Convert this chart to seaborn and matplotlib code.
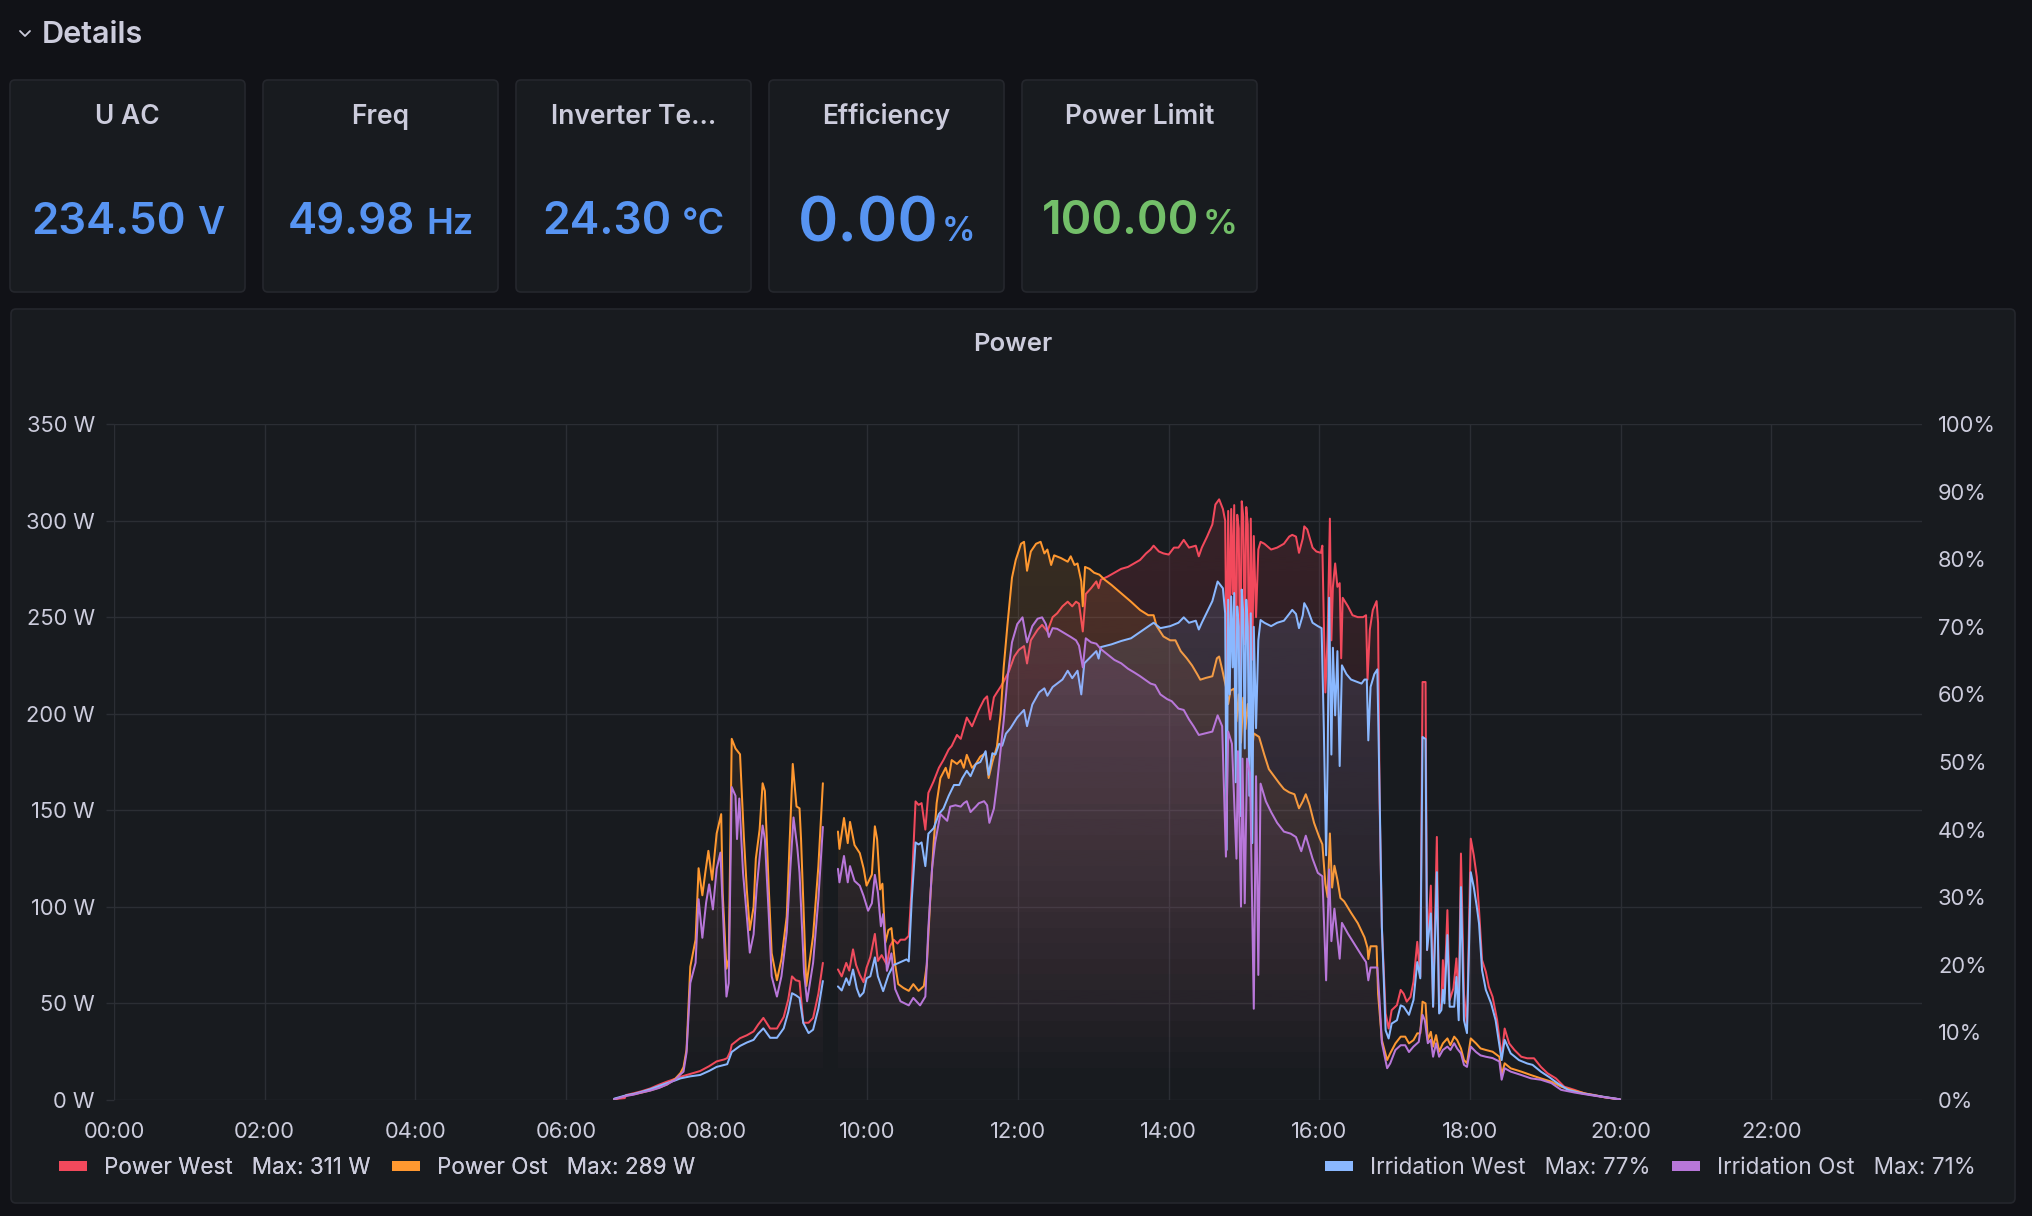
"""
Grafana-style inverter dashboard: stat tiles + power / irradiation time series.
"""

import numpy as np
import pandas as pd
import matplotlib
matplotlib.use("Agg")
import matplotlib.pyplot as plt
import matplotlib.colors as mcolors
import seaborn as sns
from matplotlib.patches import FancyBboxPatch, Patch
from matplotlib.lines import Line2D
from matplotlib.path import Path

W, H = 2032, 1216

BG = "#111217"
PANEL = "#181b1f"
BORDER = "#25272d"
TEXT = "#ccccdc"
GRID = "#2b2e34"
FILL_ALPHA = 0.17

RED = "#F2495C"
ORANGE = "#FF9830"
BLUE = "#8AB8FF"
PURPLE = "#B877D9"

# stat tiles
stat_titles = ["U AC", "Freq", "Inverter Te\u2026", "Efficiency", "Power Limit"]
stat_values = ["234.50", "49.98", "24.30", "0.00", "100.00"]
stat_units = ["V", "Hz", "\u00b0C", "%", "%"]
stat_colors = ["#5794F2", "#5794F2", "#5794F2", "#5794F2", "#73BF69"]

# time series: (hour of day, value)
power_west_pts = [
    (6.64, 0.5), (6.78, 1.0), (6.80, 2.6), (6.90, 3.5), (7.00, 4.5), (7.12, 6.0), (7.24, 8.0),
    (7.34, 9.5), (7.45, 11.0), (7.52, 12.0), (7.65, 13.5), (7.78, 15.0), (7.90, 17.5), (8.00, 20.0),
    (8.10, 21.0), (8.14, 21.7), (8.18, 25.0), (8.20, 28.6), (8.31, 32.0), (8.40, 33.5), (8.49, 35.5),
    (8.55, 39.0), (8.62, 42.5), (8.71, 37.0), (8.80, 37.0), (8.89, 43.0), (8.95, 52.0), (9.00, 64.0),
    (9.05, 62.0), (9.10, 61.5), (9.15, 40.0), (9.22, 40.0), (9.28, 42.5), (9.35, 55.0), (9.41, 71.0),
    (9.50, np.nan),
    (9.61, 67.6), (9.66, 64.0), (9.72, 71.0), (9.76, 67.0), (9.81, 78.0), (9.85, 70.0), (9.90, 64.8),
    (9.95, 61.0), (9.99, 68.5), (10.04, 74.0), (10.10, 86.0), (10.14, 72.0), (10.19, 75.0),
    (10.26, 70.0), (10.30, 79.6), (10.35, 83.0), (10.40, 81.0), (10.44, 83.0), (10.50, 83.0),
    (10.55, 85.0), (10.59, 111.0), (10.64, 154.6), (10.68, 152.8), (10.72, 153.7), (10.77, 140.0),
    (10.81, 159.0), (10.88, 165.0), (10.95, 172.0), (11.01, 176.0), (11.08, 181.5), (11.12, 183.3),
    (11.19, 189.0), (11.24, 187.0), (11.32, 198.0), (11.39, 193.5), (11.48, 202.0), (11.55, 207.4),
    (11.59, 209.0), (11.63, 197.0), (11.68, 208.5), (11.72, 211.0), (11.77, 214.0), (11.81, 216.7),
    (11.88, 222.0), (11.95, 229.6), (12.01, 233.0), (12.08, 235.0), (12.12, 226.0), (12.17, 238.0),
    (12.26, 243.5), (12.32, 246.0), (12.39, 242.6), (12.46, 250.0), (12.52, 252.0), (12.59, 255.6),
    (12.66, 258.0), (12.72, 255.6), (12.77, 258.0), (12.81, 257.0), (12.86, 242.6), (12.90, 262.0),
    (12.97, 265.0), (13.04, 268.5), (13.07, 265.0), (13.10, 269.4), (13.19, 271.0), (13.28, 273.0),
    (13.37, 275.0), (13.46, 276.0), (13.55, 278.0), (13.62, 279.6), (13.70, 283.0), (13.76, 285.0),
    (13.80, 287.0), (13.87, 284.0), (13.93, 283.0), (14.00, 282.4), (14.07, 286.0), (14.13, 286.0),
    (14.20, 290.0), (14.27, 286.0), (14.36, 287.0), (14.40, 281.5), (14.44, 286.0), (14.51, 291.7),
    (14.58, 298.0), (14.62, 308.3), (14.67, 311.0), (14.72, 306.0), (14.75, 300.0), (14.77, 215.0),
    (14.79, 305.0), (14.81, 240.0), (14.83, 306.0), (14.85, 262.0), (14.87, 308.0), (14.89, 200.0),
    (14.91, 303.0), (14.93, 296.0), (14.95, 218.0), (14.97, 310.0), (14.99, 302.0), (15.01, 236.0),
    (15.03, 307.0), (15.05, 298.0), (15.07, 212.0), (15.09, 301.0), (15.11, 228.0), (15.13, 292.0),
    (15.16, 250.0), (15.19, 285.0), (15.22, 289.0), (15.27, 288.0), (15.36, 285.0), (15.44, 286.0),
    (15.53, 288.0), (15.60, 291.7), (15.64, 292.6), (15.69, 291.7), (15.73, 283.3), (15.78, 290.7),
    (15.80, 297.0), (15.84, 295.4), (15.91, 286.0), (15.96, 284.0), (16.02, 283.3), (16.04, 287.0),
    (16.06, 247.0), (16.08, 211.0), (16.11, 240.0), (16.14, 301.0), (16.16, 238.0), (16.18, 265.7),
    (16.21, 277.8), (16.24, 265.7), (16.27, 267.6), (16.29, 228.7), (16.31, 260.0), (16.38, 255.6),
    (16.44, 251.0), (16.51, 250.0), (16.58, 250.0), (16.62, 251.0), (16.64, 217.6), (16.67, 243.5),
    (16.71, 253.7), (16.76, 258.3), (16.78, 247.0), (16.80, 154.6), (16.83, 89.6), (16.88, 44.8),
    (16.92, 37.0), (16.96, 46.5), (17.03, 49.1), (17.08, 57.0), (17.12, 55.0), (17.16, 50.9),
    (17.21, 53.4), (17.25, 61.2), (17.30, 81.9), (17.34, 63.8), (17.37, 216.4), (17.41, 216.4),
    (17.43, 77.6), (17.48, 111.0), (17.51, 48.3), (17.56, 136.2), (17.59, 45.7), (17.62, 50.0),
    (17.64, 72.4), (17.66, 55.0), (17.70, 98.3), (17.73, 51.7), (17.78, 57.8), (17.82, 73.3),
    (17.85, 48.3), (17.88, 127.6), (17.92, 55.0), (17.96, 38.0), (18.01, 135.3), (18.05, 126.7),
    (18.09, 115.5), (18.12, 98.3), (18.16, 72.4), (18.21, 66.4), (18.25, 58.6), (18.30, 53.4),
    (18.36, 41.4), (18.42, 22.4), (18.46, 37.0), (18.52, 29.3), (18.59, 25.9), (18.68, 22.4),
    (18.76, 21.6), (18.85, 21.6), (18.94, 17.2), (19.03, 13.8), (19.14, 11.2), (19.25, 6.9),
    (19.39, 5.2), (19.52, 3.4), (19.65, 2.6), (19.79, 1.4), (19.99, 0.3),
]

power_ost_pts = [
    (6.64, 0.3), (6.80, 2.3), (6.90, 3.0), (7.00, 3.8), (7.12, 5.0), (7.24, 6.5), (7.34, 8.0),
    (7.45, 11.0), (7.52, 14.0), (7.56, 17.0), (7.60, 26.0), (7.65, 69.0), (7.72, 83.0), (7.76, 120.0),
    (7.81, 106.0), (7.85, 118.0), (7.89, 129.0), (7.94, 114.0), (8.00, 138.0), (8.06, 148.0),
    (8.08, 107.0), (8.13, 68.0), (8.16, 73.0), (8.20, 187.0), (8.25, 182.0), (8.31, 179.0),
    (8.36, 137.0), (8.40, 109.0), (8.44, 88.0), (8.49, 100.0), (8.52, 125.0), (8.57, 140.0),
    (8.61, 164.0), (8.64, 160.0), (8.69, 111.0), (8.73, 76.0), (8.80, 62.0), (8.86, 73.0),
    (8.93, 95.0), (8.97, 135.0), (9.01, 174.0), (9.06, 152.0), (9.10, 151.0), (9.12, 135.0),
    (9.19, 59.0), (9.28, 85.0), (9.35, 121.0), (9.41, 164.0),
    (9.50, np.nan),
    (9.61, 139.0), (9.63, 130.0), (9.69, 146.0), (9.74, 133.0), (9.77, 144.0), (9.83, 132.0),
    (9.90, 127.8), (9.95, 120.0), (9.99, 111.0), (10.06, 116.7), (10.10, 141.7), (10.13, 135.0),
    (10.17, 109.0), (10.20, 112.0), (10.24, 81.5), (10.28, 88.0), (10.32, 89.0), (10.37, 70.0),
    (10.41, 60.0), (10.48, 58.0), (10.55, 56.5), (10.61, 60.0), (10.68, 56.5), (10.75, 59.0),
    (10.79, 70.0), (10.84, 107.4), (10.88, 133.0), (10.92, 153.7), (10.97, 166.7), (11.04, 172.0),
    (11.08, 166.7), (11.12, 176.0), (11.19, 174.0), (11.24, 176.0), (11.28, 172.0), (11.32, 178.7),
    (11.39, 172.0), (11.44, 174.0), (11.50, 177.8), (11.57, 179.6), (11.61, 166.7), (11.66, 175.0),
    (11.72, 183.0), (11.77, 200.0), (11.81, 224.0), (11.86, 246.0), (11.92, 270.4), (11.97, 279.6),
    (12.04, 288.0), (12.08, 289.0), (12.12, 274.0), (12.17, 284.0), (12.24, 288.0), (12.30, 289.0),
    (12.35, 283.0), (12.39, 285.0), (12.44, 277.0), (12.48, 282.0), (12.57, 280.6), (12.66, 278.7),
    (12.70, 281.5), (12.75, 277.0), (12.79, 277.8), (12.84, 268.5), (12.86, 255.6), (12.89, 276.0),
    (12.95, 275.0), (13.01, 273.0), (13.08, 272.0), (13.15, 269.4), (13.24, 266.7), (13.32, 264.0),
    (13.41, 261.0), (13.50, 258.0), (13.62, 253.7), (13.73, 251.0), (13.80, 251.0), (13.84, 245.4),
    (13.93, 240.0), (14.02, 238.0), (14.09, 238.0), (14.16, 232.4), (14.24, 228.7), (14.31, 225.0),
    (14.38, 220.4), (14.42, 217.6), (14.49, 218.5), (14.58, 219.4), (14.64, 228.7), (14.67, 229.6),
    (14.71, 223.0), (14.76, 214.0), (14.79, 205.0), (14.82, 212.0), (14.87, 213.0), (14.90, 196.0),
    (14.93, 210.0), (14.96, 185.0), (14.99, 208.3), (15.02, 192.0), (15.05, 205.0), (15.07, 195.4),
    (15.10, 178.0), (15.13, 189.8), (15.20, 188.0), (15.27, 178.7), (15.33, 171.3), (15.40, 167.6),
    (15.47, 163.9), (15.53, 161.0), (15.60, 159.3), (15.67, 158.3), (15.73, 151.0), (15.78, 154.6),
    (15.82, 158.3), (15.87, 152.8), (15.93, 143.5), (16.00, 136.0), (16.04, 132.4), (16.08, 112.0),
    (16.11, 105.0), (16.14, 138.0), (16.17, 110.0), (16.20, 121.3), (16.24, 114.0), (16.28, 104.6),
    (16.33, 102.8), (16.42, 97.0), (16.51, 91.6), (16.60, 84.2), (16.64, 78.7), (16.65, 73.0),
    (16.68, 79.6), (16.76, 79.6), (16.78, 55.0), (16.83, 31.0), (16.90, 20.7), (16.94, 24.1),
    (17.01, 29.3), (17.08, 32.8), (17.14, 32.8), (17.19, 29.3), (17.25, 31.0), (17.30, 34.5),
    (17.34, 34.5), (17.37, 50.9), (17.41, 50.0), (17.44, 31.0), (17.48, 35.3), (17.51, 27.6),
    (17.55, 33.6), (17.59, 25.0), (17.64, 29.3), (17.70, 31.9), (17.74, 28.4), (17.79, 32.8),
    (17.83, 31.0), (17.88, 26.7), (17.92, 20.7), (17.96, 19.0), (18.01, 31.9), (18.08, 29.3),
    (18.14, 26.7), (18.21, 25.9), (18.30, 25.0), (18.39, 22.4), (18.42, 12.9), (18.46, 19.0),
    (18.54, 16.4), (18.68, 14.7), (18.81, 12.9), (18.94, 11.2), (19.08, 9.5), (19.21, 6.9),
    (19.34, 5.2), (19.56, 3.1), (19.79, 1.4), (19.99, 0.3),
]

irr_west_pts = [
    (6.64, 0.2), (6.80, 0.7), (6.90, 0.9), (7.00, 1.2), (7.12, 1.6), (7.24, 2.1), (7.34, 2.5),
    (7.45, 2.9), (7.52, 3.2), (7.65, 3.5), (7.78, 3.7), (7.90, 4.3), (8.00, 4.9), (8.14, 5.3),
    (8.20, 7.1), (8.31, 8.0), (8.40, 8.5), (8.49, 8.9), (8.55, 9.8), (8.62, 10.6), (8.71, 9.2),
    (8.80, 9.2), (8.89, 10.6), (8.95, 13.0), (9.00, 15.8), (9.05, 15.5), (9.10, 15.1), (9.15, 11.4),
    (9.22, 9.9), (9.28, 10.4), (9.35, 13.5), (9.41, 17.6),
    (9.50, np.nan),
    (9.61, 16.8), (9.66, 16.2), (9.72, 18.0), (9.76, 17.0), (9.81, 19.3), (9.86, 16.5), (9.90, 15.3),
    (9.95, 15.9), (9.99, 18.0), (10.04, 18.3), (10.10, 21.1), (10.14, 18.3), (10.21, 16.1),
    (10.28, 18.5), (10.35, 20.0), (10.40, 20.2), (10.46, 20.5), (10.52, 20.8), (10.55, 20.5),
    (10.59, 29.7), (10.64, 38.1), (10.68, 37.8), (10.72, 38.1), (10.77, 34.6), (10.81, 39.4),
    (10.88, 40.2), (10.95, 42.3), (11.01, 43.1), (11.08, 45.0), (11.15, 46.6), (11.22, 46.6),
    (11.26, 47.6), (11.32, 48.7), (11.37, 47.9), (11.44, 49.7), (11.50, 50.0), (11.57, 51.6),
    (11.61, 48.1), (11.66, 51.3), (11.70, 51.1), (11.75, 52.7), (11.79, 52.4), (11.84, 54.2),
    (11.90, 55.0), (11.99, 56.6), (12.08, 57.7), (12.12, 55.3), (12.19, 58.5), (12.28, 60.3),
    (12.35, 60.9), (12.39, 59.8), (12.46, 61.1), (12.52, 61.6), (12.59, 62.2), (12.66, 63.5),
    (12.72, 62.4), (12.79, 63.5), (12.84, 60.0), (12.88, 64.6), (12.97, 65.6), (13.04, 66.4),
    (13.07, 65.3), (13.10, 67.0), (13.24, 67.4), (13.37, 67.9), (13.50, 68.3), (13.67, 69.6),
    (13.80, 70.6), (13.89, 69.8), (14.02, 70.1), (14.13, 70.6), (14.20, 71.4), (14.27, 70.6),
    (14.36, 70.9), (14.40, 69.6), (14.44, 70.6), (14.51, 72.2), (14.58, 73.8), (14.65, 76.7),
    (14.72, 75.7), (14.75, 72.0), (14.77, 37.0), (14.79, 74.0), (14.81, 60.0), (14.83, 74.5),
    (14.85, 64.0), (14.87, 75.0), (14.89, 47.0), (14.91, 73.0), (14.93, 70.0), (14.95, 42.0),
    (14.97, 75.5), (14.99, 72.0), (15.01, 52.0), (15.03, 74.0), (15.05, 70.0), (15.07, 45.0),
    (15.09, 72.0), (15.11, 38.0), (15.13, 70.0), (15.16, 55.0), (15.19, 68.0), (15.22, 71.0),
    (15.27, 70.6), (15.36, 70.1), (15.44, 70.6), (15.53, 70.9), (15.60, 71.9), (15.64, 72.5),
    (15.69, 71.9), (15.73, 69.8), (15.78, 71.7), (15.80, 73.5), (15.84, 72.7), (15.91, 70.6),
    (15.98, 70.1), (16.03, 69.8), (16.06, 54.8), (16.09, 36.2), (16.11, 50.0), (16.13, 74.3),
    (16.16, 51.1), (16.18, 66.9), (16.21, 56.9), (16.24, 66.4), (16.27, 49.4), (16.30, 64.3),
    (16.36, 63.0), (16.42, 62.2), (16.49, 61.9), (16.56, 61.6), (16.60, 62.2), (16.63, 62.2),
    (16.65, 53.2), (16.68, 61.1), (16.73, 63.0), (16.77, 63.7), (16.80, 45.3), (16.83, 25.6),
    (16.88, 10.3), (16.92, 9.1), (16.96, 11.3), (17.03, 11.8), (17.08, 14.0), (17.12, 13.8),
    (17.19, 12.6), (17.25, 14.8), (17.30, 20.4), (17.34, 18.0), (17.37, 53.7), (17.41, 53.4),
    (17.43, 22.2), (17.48, 27.6), (17.51, 13.8), (17.56, 33.7), (17.59, 12.8), (17.62, 13.3),
    (17.64, 16.3), (17.66, 14.3), (17.70, 24.4), (17.73, 13.8), (17.79, 13.8), (17.82, 18.2),
    (17.85, 11.8), (17.88, 31.5), (17.92, 11.8), (17.96, 9.9), (18.01, 33.7), (18.05, 31.5),
    (18.09, 28.6), (18.12, 26.1), (18.16, 19.2), (18.21, 16.3), (18.28, 14.3), (18.34, 11.8),
    (18.42, 5.9), (18.46, 8.9), (18.54, 6.9), (18.65, 5.9), (18.76, 5.4), (18.83, 5.2), (18.94, 4.2),
    (19.05, 3.4), (19.16, 2.5), (19.30, 1.5), (19.48, 1.0), (19.70, 0.6), (19.99, 0.1),
]

irr_ost_pts = [
    (6.64, 0.1), (6.80, 0.6), (6.90, 0.8), (7.00, 1.1), (7.12, 1.4), (7.24, 1.8), (7.34, 2.3),
    (7.45, 3.0), (7.52, 3.8), (7.56, 4.2), (7.60, 7.0), (7.65, 17.3), (7.72, 20.3), (7.76, 29.7),
    (7.81, 24.0), (7.86, 29.2), (7.90, 31.9), (7.95, 28.2), (8.00, 34.2), (8.05, 36.6), (8.08, 28.7),
    (8.13, 15.3), (8.16, 17.3), (8.20, 46.3), (8.25, 45.0), (8.27, 38.6), (8.30, 44.6), (8.35, 33.6),
    (8.40, 27.2), (8.44, 21.8), (8.49, 24.5), (8.53, 31.2), (8.61, 40.6), (8.64, 38.6), (8.69, 27.7),
    (8.73, 18.3), (8.80, 15.3), (8.86, 18.3), (8.93, 24.8), (8.98, 34.6), (9.02, 41.8), (9.07, 37.4),
    (9.10, 33.6), (9.16, 18.8), (9.20, 14.6), (9.28, 20.3), (9.35, 29.7), (9.41, 40.4),
    (9.50, np.nan),
    (9.61, 34.2), (9.63, 32.2), (9.69, 36.1), (9.74, 32.2), (9.77, 34.6), (9.83, 32.4), (9.90, 31.7),
    (9.95, 30.2), (10.01, 28.0), (10.06, 29.1), (10.10, 33.3), (10.14, 30.7), (10.18, 25.7),
    (10.21, 27.5), (10.26, 19.1), (10.32, 21.7), (10.37, 16.4), (10.44, 14.6), (10.55, 14.0),
    (10.61, 15.1), (10.70, 14.0), (10.77, 15.3), (10.81, 25.4), (10.86, 34.4), (10.90, 38.1),
    (10.97, 42.3), (11.06, 41.3), (11.10, 43.4), (11.17, 43.6), (11.24, 43.4), (11.28, 43.9),
    (11.32, 44.2), (11.37, 42.6), (11.44, 43.4), (11.48, 43.9), (11.55, 44.2), (11.59, 43.6),
    (11.62, 41.0), (11.68, 43.1), (11.72, 46.6), (11.77, 51.9), (11.81, 56.1), (11.86, 62.4),
    (11.92, 67.7), (11.99, 70.4), (12.06, 71.4), (12.12, 67.7), (12.19, 70.1), (12.26, 71.2),
    (12.32, 71.4), (12.37, 70.4), (12.41, 68.5), (12.46, 69.8), (12.52, 69.7), (12.61, 69.1),
    (12.70, 68.5), (12.77, 68.0), (12.81, 67.2), (12.86, 64.0), (12.90, 68.3), (12.97, 67.7),
    (13.04, 67.5), (13.10, 66.7), (13.19, 65.9), (13.28, 65.1), (13.37, 64.6), (13.46, 63.8),
    (13.55, 63.2), (13.62, 62.7), (13.76, 61.6), (13.82, 61.4), (13.89, 60.0), (13.98, 59.3),
    (14.04, 59.0), (14.13, 57.9), (14.20, 57.7), (14.27, 56.3), (14.33, 55.3), (14.40, 54.0),
    (14.47, 54.2), (14.58, 54.5), (14.65, 56.9), (14.71, 55.3), (14.76, 36.0), (14.79, 54.5),
    (14.84, 52.7), (14.90, 35.7), (14.92, 51.6), (14.96, 28.6), (14.98, 50.5), (15.01, 29.1),
    (15.04, 50.5), (15.08, 48.4), (15.13, 13.5), (15.16, 47.9), (15.19, 18.5), (15.22, 46.8),
    (15.29, 44.2), (15.36, 42.6), (15.44, 41.0), (15.53, 39.7), (15.62, 39.4), (15.69, 38.9),
    (15.76, 36.8), (15.82, 39.1), (15.91, 35.7), (15.98, 33.6), (16.04, 33.1), (16.09, 17.7),
    (16.13, 34.1), (16.16, 23.5), (16.20, 28.3), (16.27, 20.9), (16.30, 26.2), (16.38, 24.6),
    (16.47, 23.0), (16.56, 21.4), (16.62, 20.4), (16.65, 17.7), (16.68, 19.6), (16.77, 19.6),
    (16.80, 14.6), (16.83, 8.5), (16.90, 4.7), (16.94, 5.4), (17.01, 7.4), (17.08, 8.1),
    (17.14, 8.1), (17.19, 7.1), (17.25, 7.9), (17.32, 8.6), (17.37, 12.6), (17.40, 11.8),
    (17.44, 8.4), (17.48, 8.9), (17.51, 6.4), (17.55, 8.4), (17.59, 6.4), (17.64, 7.4), (17.70, 7.9),
    (17.74, 7.4), (17.79, 8.4), (17.83, 7.6), (17.88, 6.9), (17.92, 5.2), (17.96, 4.9), (18.01, 7.9),
    (18.08, 7.1), (18.14, 6.6), (18.21, 6.4), (18.30, 6.2), (18.39, 5.7), (18.42, 3.0), (18.46, 4.7),
    (18.54, 4.2), (18.68, 3.7), (18.81, 3.2), (18.94, 3.0), (19.08, 2.5), (19.21, 1.5), (19.39, 1.1),
    (19.61, 0.7), (19.79, 0.4), (19.99, 0.1),
]

power_ticks = list(range(0, 351, 50))
percent_ticks = list(range(0, 101, 10))
hour_ticks = list(range(0, 23, 2))

sns.set_theme(style="dark")
plt.rcParams["font.family"] = ["Inter", "DejaVu Sans"]

TICK_SIZE = 15.8
LEGEND_SIZE = 16.2


def fx(x):
    return x / W


def fy(y):
    return 1 - y / H


def add_panel(fig, x0, y0, x1, y1):
    box = FancyBboxPatch(
        (x0 / 100, (H - y1) / 100), (x1 - x0) / 100, (y1 - y0) / 100,
        boxstyle="round,pad=0,rounding_size=0.05",
        transform=fig.dpi_scale_trans, facecolor=PANEL, edgecolor=BORDER, lw=1.2, zorder=-5,
    )
    fig.add_artist(box)


def draw_series(axis, pts, color, top, z):
    df = pd.DataFrame(pts, columns=["t", "v"])
    df["seg"] = df["v"].isna().cumsum()
    # gradient fill (opacity grows with height), clipped to the area under the curve
    poly = axis.fill_between(df["t"], 0, df["v"], facecolor="none", edgecolor="none")
    clip = Path.make_compound_path(*poly.get_paths())
    rgba = np.zeros((256, 1, 4))
    rgba[..., :3] = mcolors.to_rgb(color)
    rgba[:, 0, 3] = np.linspace(0, FILL_ALPHA, 256)
    im = axis.imshow(rgba, extent=(0, 24, 0, top), origin="lower", aspect="auto",
                     interpolation="bilinear", zorder=z)
    im.set_clip_path(clip, transform=axis.transData)
    sns.lineplot(data=df.dropna(), x="t", y="v", units="seg", estimator=None,
                 color=color, lw=1.45, ax=axis, legend=False, zorder=z + 0.5)
    return df["v"]


fig = plt.figure(figsize=(W / 100, H / 100), dpi=100, facecolor=BG)
renderer = fig.canvas.get_renderer()

# row header
fig.add_artist(Line2D([0.20, 0.25, 0.30], [(H - 31) / 100, (H - 36) / 100, (H - 31) / 100],
                      transform=fig.dpi_scale_trans, color=TEXT, lw=1.3))
fig.text(fx(42), fy(43), "Details", fontsize=22, fontweight="semibold", color=TEXT, va="baseline")

# stat tiles: (value size, unit size, baseline y)
stat_sizes = [(31.5, 27, 234), (31.5, 26, 234), (32, 26, 234), (44, 24, 241), (33.5, 25, 234)]
for i, (title, val, unit, col) in enumerate(zip(stat_titles, stat_values, stat_units, stat_colors)):
    x0 = 10 + i * 253
    x1 = x0 + 235
    add_panel(fig, x0, 80, x1, 292)
    cx = (x0 + x1) / 2
    fig.text(fx(cx), fy(124), title, ha="center", va="baseline", fontsize=19,
             fontweight="semibold", color=TEXT)
    vsize, usize, base = stat_sizes[i]
    tv = fig.text(0, fy(base), val, fontsize=vsize, fontweight="semibold", color=col, va="baseline")
    tu = fig.text(0, fy(base), unit, fontsize=usize, fontweight="semibold", color=col, va="baseline")
    wv = tv.get_window_extent(renderer).width
    wu = tu.get_window_extent(renderer).width
    gap = 3 if unit == "%" else 11
    left = cx - (wv + gap + wu) / 2
    tv.set_x(fx(left))
    tu.set_x(fx(left + wv + gap))

# power panel
add_panel(fig, 11, 309, 2015, 1203)
fig.text(fx(1013), fy(351), "Power", ha="center", va="baseline", fontsize=18.5,
         fontweight="semibold", color=TEXT)

ax = fig.add_axes([fx(114), fy(1100), (1922 - 114) / W, (1100 - 424) / H])
ax.set_facecolor(PANEL)
ax2 = ax.twinx()

pw = draw_series(ax, power_west_pts, RED, 350, 2)
po = draw_series(ax, power_ost_pts, ORANGE, 350, 3)
iw = draw_series(ax2, irr_west_pts, BLUE, 100, 2)
io = draw_series(ax2, irr_ost_pts, PURPLE, 100, 3)

for a in (ax, ax2):
    a.set_xlim(0, 24)
    a.set_xlabel("")
    a.set_ylabel("")
    for s in a.spines.values():
        s.set_visible(False)

ax.set_ylim(0, 350)
ax.set_yticks(power_ticks)
ax.set_yticklabels([f"{v} W" for v in power_ticks])
ax.set_xticks(hour_ticks)
ax.set_xticklabels([f"{h:02d}:00" for h in hour_ticks])
ax.grid(True, color=GRID, lw=1)
ax.tick_params(axis="both", colors=GRID, labelcolor=TEXT, labelsize=TICK_SIZE, length=5.8, width=1)
ax.tick_params(axis="y", pad=8)
ax.tick_params(axis="x", pad=10)

ax2.set_ylim(0, 100)
ax2.set_yticks(percent_ticks)
ax2.set_yticklabels([f"{p}%" for p in percent_ticks])
ax2.tick_params(axis="y", length=0, pad=11.5, labelcolor=TEXT, labelsize=TICK_SIZE)
ax2.grid(False)

# legends
left_handles = [Patch(facecolor=RED, edgecolor="none"), Patch(facecolor=ORANGE, edgecolor="none")]
left_labels = [f"Power West   Max: {np.nanmax(pw):.0f} W", f"Power Ost   Max: {np.nanmax(po):.0f} W"]
right_handles = [Patch(facecolor=BLUE, edgecolor="none"), Patch(facecolor=PURPLE, edgecolor="none")]
right_labels = [f"Irridation West   Max: {np.nanmax(iw):.0f}%", f"Irridation Ost   Max: {np.nanmax(io):.0f}%"]

leg_kw = dict(ncol=2, frameon=False, fontsize=LEGEND_SIZE, labelcolor=TEXT, handlelength=1.24,
              handleheight=0.36, handletextpad=0.75, columnspacing=0.98, borderpad=0,
              borderaxespad=0, bbox_transform=fig.transFigure)
leg1 = ax.legend(left_handles, left_labels, loc="center left",
                 bbox_to_anchor=(fx(59), fy(1168)), **leg_kw)
ax.add_artist(leg1)
ax2.legend(right_handles, right_labels, loc="center right",
           bbox_to_anchor=(fx(1976), fy(1168)), **leg_kw)

fig.savefig("out.png", dpi=100, facecolor=BG)
